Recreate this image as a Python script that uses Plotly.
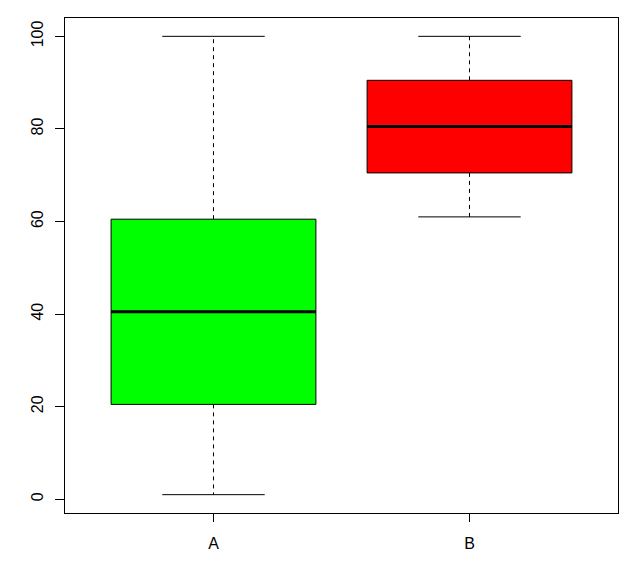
import plotly.graph_objects as go

categories = ["A", "B"]
positions = [1, 2]
lower_whisker = [1, 61]
q1 = [20.5, 70.5]
median = [40.5, 80.5]
q3 = [60.5, 90.5]
upper_whisker = [100, 100]
fill_colors = ["#00FF00", "#FF0000"]
y_ticks = [0, 20, 40, 60, 80, 100]

box_half = 0.4
staple_half = 0.2

fig = go.Figure()
for i, x in enumerate(positions):
    # whiskers (dashed)
    fig.add_trace(go.Scatter(
        x=[x, x, None, x, x],
        y=[q3[i], upper_whisker[i], None, q1[i], lower_whisker[i]],
        mode="lines", line=dict(color="black", width=1, dash="4px,4px"),
        showlegend=False, hoverinfo="skip"))
    # staples
    fig.add_trace(go.Scatter(
        x=[x - staple_half, x + staple_half, None, x - staple_half, x + staple_half],
        y=[upper_whisker[i], upper_whisker[i], None, lower_whisker[i], lower_whisker[i]],
        mode="lines", line=dict(color="black", width=1),
        showlegend=False, hoverinfo="skip"))
    # box
    fig.add_trace(go.Scatter(
        x=[x - box_half, x + box_half, x + box_half, x - box_half, x - box_half],
        y=[q1[i], q1[i], q3[i], q3[i], q1[i]],
        mode="lines", fill="toself", fillcolor=fill_colors[i],
        line=dict(color="black", width=1),
        showlegend=False, hoverinfo="skip"))
    # median
    fig.add_trace(go.Scatter(
        x=[x - box_half, x + box_half],
        y=[median[i], median[i]],
        mode="lines", line=dict(color="black", width=3),
        showlegend=False, hoverinfo="skip"))

fig.update_layout(
    width=636, height=557,
    margin=dict(l=57, r=26, t=10, b=52),
    paper_bgcolor="white", plot_bgcolor="white",
    font=dict(family="Liberation Sans, Arial", size=16, color="black"),
    xaxis=dict(range=[0.42, 2.58], tickvals=positions, ticktext=categories,
               showgrid=False, zeroline=False, showline=True, mirror=True,
               linecolor="black", linewidth=1, ticks="outside", ticklen=8,
               tickcolor="black", tickwidth=1, ticklabelstandoff=8),
    yaxis=dict(range=[-2.96, 103.96], tickvals=y_ticks, tickangle=-90,
               showgrid=False, zeroline=False, showline=True, mirror=True,
               linecolor="black", linewidth=1, ticks="outside", ticklen=9,
               tickcolor="black", tickwidth=1, ticklabelstandoff=6),
)

fig.write_html("out.html")
